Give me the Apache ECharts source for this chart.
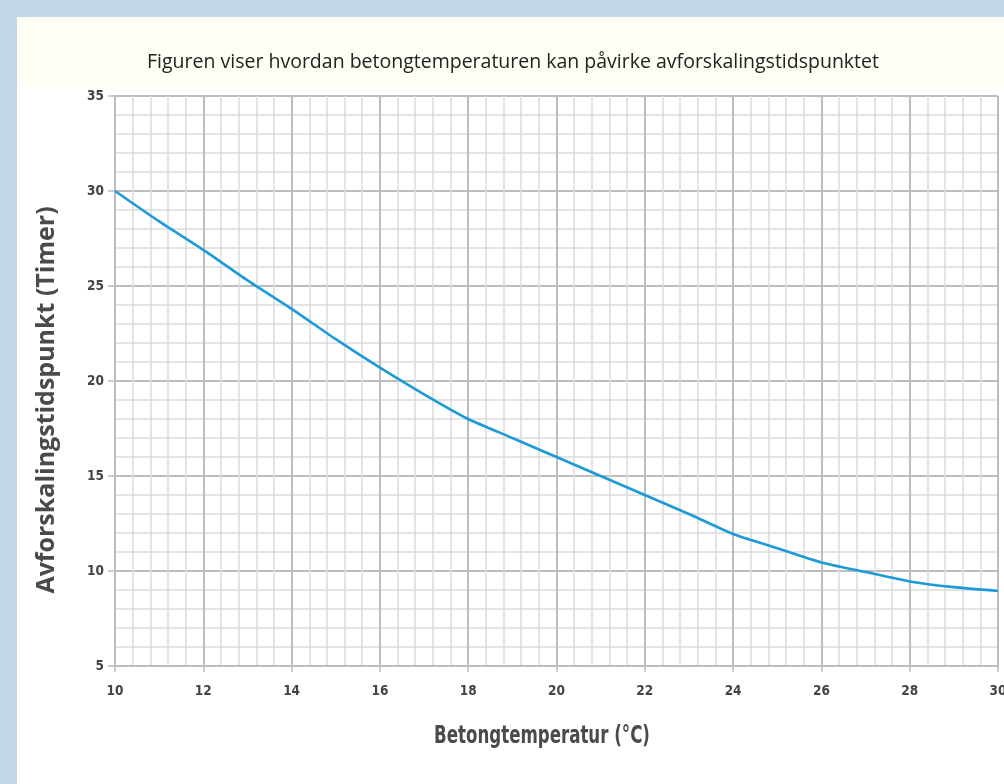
<!DOCTYPE html>
<html>
<head>
<meta charset="utf-8">
<script src="https://cdn.jsdelivr.net/npm/echarts@6/dist/echarts.min.js"></script>
<style>
html,body{margin:0;padding:0;background:#c3d9e7;overflow:hidden;}
#wrap{position:absolute;left:17px;top:17px;right:0;bottom:0;background:#ffffff;}
#band{position:absolute;left:17px;top:17px;right:0;height:70px;background:#fefef4;}
#chart{position:absolute;left:0;top:0;width:1004px;height:784px;}
</style>
</head>
<body>
<div id="wrap"></div>
<div id="band"></div>
<div id="chart"></div>
<script>
const titleText = 'Figuren viser hvordan betongtemperaturen kan påvirke avforskalingstidspunktet';
const xName = 'Betongtemperatur (°C)';
const yName = 'Avforskalingstidspunkt (Timer)';
const temperatures = [10, 11, 12, 13, 14, 15, 16, 17, 18, 19, 20, 21, 22, 23, 24, 25, 26, 27, 28, 29, 30];
const hours = [30, 28.4, 26.9, 25.3, 23.8, 22.2, 20.7, 19.3, 18.0, 17.0, 16.0, 15.0, 14.0, 13.0, 11.95, 11.2, 10.45, 9.95, 9.45, 9.15, 8.95];

const condensed = "'Liberation Sans Narrow', 'DejaVu Sans Condensed', 'Roboto Condensed', sans-serif";
const chart = echarts.init(document.getElementById('chart'), null, {renderer: 'canvas'});
chart.setOption({
  backgroundColor: 'transparent',
  animation: false,
  title: {
    text: titleText,
    left: 508, top: 47, textAlign: 'center',
    textStyle: {fontFamily: "'Open Sans', sans-serif", fontWeight: 'normal', fontSize: 19.5, color: '#222'}
  },
  grid: {left: 115, right: 6, top: 96, bottom: 118, containLabel: false, outerBoundsMode: 'none'},
  xAxis: {
    type: 'value', min: 10, max: 30, interval: 2,
    axisLine: {show: true, lineStyle: {color: '#bdbdbd', width: 2}},
    axisTick: {show: true, length: 6, lineStyle: {color: '#bdbdbd', width: 1.5}},
    minorTick: {show: false, splitNumber: 5},
    splitLine: {show: true, lineStyle: {color: '#bdbdbd', width: 2}},
    minorSplitLine: {show: true, lineStyle: {color: '#dcdcdc', width: 1.5}},
    axisLabel: {margin: 18, fontFamily: condensed, fontWeight: 'bold', fontSize: 13.5, color: '#444'}
  },
  yAxis: {
    type: 'value', min: 5, max: 35, interval: 5,
    axisLine: {show: true, lineStyle: {color: '#bdbdbd', width: 2}},
    axisTick: {show: true, length: 7, lineStyle: {color: '#bdbdbd', width: 1.5}},
    minorTick: {show: false, splitNumber: 5},
    splitLine: {show: true, lineStyle: {color: '#bdbdbd', width: 2}},
    minorSplitLine: {show: true, lineStyle: {color: '#dcdcdc', width: 1.5}},
    axisLabel: {margin: 11, fontFamily: condensed, fontWeight: 'bold', fontSize: 13.5, color: '#444'}
  },
  graphic: [
    {type: 'text', x: 542, y: 736, scaleX: 0.74, scaleY: 1,
     style: {text: xName, x: 0, y: 0, align: 'center', verticalAlign: 'middle', fontFamily: condensed, fontWeight: 'bold', fontSize: 25, fill: '#4a4a4a'}},
    {type: 'text', x: 47, y: 400, rotation: Math.PI / 2,
     style: {text: yName, x: 0, y: 0, align: 'center', verticalAlign: 'middle', fontFamily: "'Open Sans', 'DejaVu Sans', sans-serif", fontWeight: 'bold', fontSize: 25, fill: '#4a4a4a'}}
  ],
  series: [{
    type: 'line',
    data: temperatures.map((t, i) => [t, hours[i]]),
    showSymbol: false,
    smooth: 0.2,
    lineStyle: {color: '#1d9ad8', width: 2.6}
  }]
});
</script>
</body>
</html>
